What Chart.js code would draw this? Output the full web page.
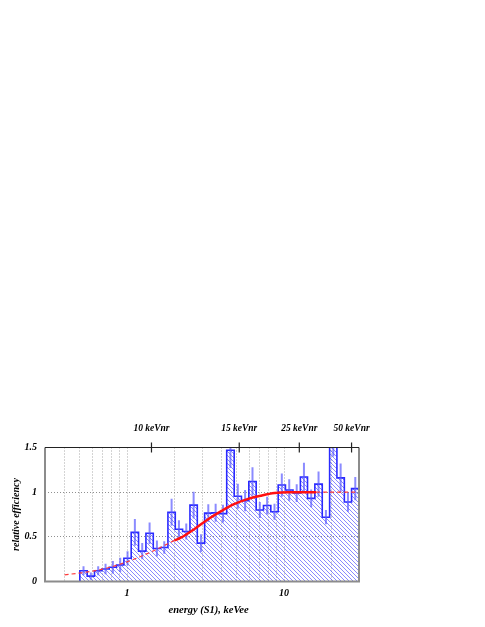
<!DOCTYPE html>
<html>
<head>
<meta charset="utf-8">
<script src="https://cdn.jsdelivr.net/npm/chart.js@4.4.1/dist/chart.umd.min.js"></script>
<style>
  body { margin: 0; background: #fff; }
  canvas { display: block; }
</style>
</head>
<body>
<canvas id="effChart" width="485" height="627"></canvas>
<script>
// histogram bin edges, keVee (38 log-spaced bins)
const binEdges = [0.5, 0.557, 0.620, 0.691, 0.769, 0.857, 0.954, 1.062, 1.183, 1.318,
  1.468, 1.634, 1.820, 2.027, 2.257, 2.514, 2.800, 3.118, 3.472, 3.867,
  4.31, 4.81, 5.35, 5.96, 6.64, 7.39, 8.23, 9.17, 10.2, 11.4,
  12.7, 14.1, 15.7, 17.5, 19.5, 21.7, 24.2, 26.9, 30.0];

const efficiency = [0.12, 0.06, 0.12, 0.14, 0.16, 0.185, 0.26, 0.55, 0.34, 0.54,
  0.37, 0.38, 0.775, 0.585, 0.56, 0.855, 0.43, 0.765, 0.77, 0.76,
  1.47, 0.955, 0.905, 1.12, 0.80, 0.85, 0.78, 1.08, 1.025, 0.99,
  1.17, 0.93, 1.09, 0.72, 1.60, 1.16, 0.89, 1.04];

const errors = [0.05, 0.04, 0.05, 0.06, 0.07, 0.08, 0.08, 0.15, 0.09, 0.12,
  0.09, 0.07, 0.15, 0.10, 0.09, 0.15, 0.10, 0.10, 0.10, 0.10,
  0.20, 0.14, 0.12, 0.16, 0.09, 0.10, 0.09, 0.13, 0.12, 0.10,
  0.16, 0.10, 0.14, 0.08, 0.20, 0.16, 0.11, 0.13];

// fitted efficiency curve (solid inside the fit range, dashed outside)
const fitEnergy = [0.4, 0.5, 0.6, 0.7, 0.8, 1.0, 1.2, 1.5, 2.0, 2.2, 2.7, 3.3, 4.0, 4.8, 5.9, 7.1, 8.7, 10.6, 16, 30];
const fitValue  = [0.075, 0.095, 0.115, 0.14, 0.165, 0.22, 0.275, 0.35, 0.46, 0.49, 0.59, 0.70, 0.79, 0.865, 0.925, 0.96, 0.99, 1.0, 1.0, 1.0];
const fitRange = [2.0, 16];

const topTicks = [1.43, 5.18, 12.5, 26.9];
const topLabels = ['10 keVnr', '15 keVnr', '25 keVnr', '50 keVnr'];
const gridTicks = [0.4, 0.5, 0.6, 0.7, 0.8, 0.9, 1, 2, 3, 4, 5, 6, 7, 8, 9, 10, 20];
const xLabels = { 1: '1', 10: '10' };
const yTicks = [0, 0.5, 1, 1.5];

const serif = "'Liberation Serif', 'Times New Roman', serif";

function hatchPattern() {
  const s = 4;
  const c = document.createElement('canvas');
  c.width = s; c.height = s;
  const g = c.getContext('2d');
  g.strokeStyle = 'rgba(60,60,255,0.6)';
  g.lineWidth = 1;
  g.beginPath();
  g.moveTo(-1, -1); g.lineTo(s + 1, s + 1);
  g.moveTo(-1, s - 1); g.lineTo(1, s + 1);
  g.moveTo(s - 1, -1); g.lineTo(s + 1, 1);
  g.stroke();
  return g.createPattern(c, 'repeat');
}

// step outline: start at 0, one point per bin left edge, close at the last edge
const histPoints = [{ x: binEdges[0], y: 0 }];
efficiency.forEach((v, i) => histPoints.push({ x: binEdges[i], y: v }));
histPoints.push({ x: binEdges[binEdges.length - 1], y: efficiency[efficiency.length - 1] });
histPoints.push({ x: binEdges[binEdges.length - 1], y: 0 });

const errPoints = [];
efficiency.forEach((v, i) => {
  const c = Math.sqrt(binEdges[i] * binEdges[i + 1]);
  errPoints.push({ x: c, y: v - errors[i] }, { x: c, y: v + errors[i] }, { x: c, y: null });
});

const solidFit = [];
const lowFit = [];
const highFit = [];
fitEnergy.forEach((e, i) => {
  const p = { x: e, y: fitValue[i] };
  if (e >= fitRange[0] && e <= fitRange[1]) solidFit.push(p);
  if (e <= fitRange[0]) lowFit.push(p);
  if (e >= fitRange[1]) highFit.push(p);
});

const framePlugin = {
  id: 'frame',
  afterDatasetsDraw(chart) {
    const { ctx, chartArea: a } = chart;
    const top = chart.scales.xTop;
    ctx.save();
    ctx.lineWidth = 2;
    ctx.strokeStyle = '#8c8c8c';
    ctx.beginPath();
    ctx.moveTo(a.left, a.top);
    ctx.lineTo(a.left, a.bottom);
    ctx.lineTo(a.right, a.bottom);
    ctx.lineTo(a.right, a.top);
    ctx.stroke();
    ctx.lineWidth = 1.2;
    ctx.strokeStyle = '#222';
    ctx.beginPath();
    ctx.moveTo(a.left, a.top);
    ctx.lineTo(a.right, a.top);
    topTicks.forEach(v => {
      const x = top.getPixelForValue(v);
      ctx.moveTo(x, a.top - 5);
      ctx.lineTo(x, a.top + 5);
    });
    ctx.stroke();
    ctx.restore();
  }
};

const dashedStyle = {
  borderColor: '#ff3a3a',
  borderWidth: 1.2,
  borderDash: [4, 3],
  pointRadius: 0,
  cubicInterpolationMode: 'monotone',
  fill: false,
  clip: 0
};

new Chart(document.getElementById('effChart'), {
  type: 'line',
  data: {
    datasets: [
      {
        data: solidFit,
        borderColor: '#ff1010',
        borderWidth: 2.5,
        pointRadius: 0,
        cubicInterpolationMode: 'monotone',
        fill: false,
        clip: 0
      },
      Object.assign({ data: lowFit }, dashedStyle),
      Object.assign({ data: highFit }, dashedStyle),
      {
        data: errPoints,
        borderColor: 'rgba(90,90,255,0.7)',
        borderWidth: 2,
        pointRadius: 0,
        fill: false,
        clip: 0
      },
      {
        data: histPoints,
        borderColor: '#2a2aff',
        borderWidth: 1.6,
        backgroundColor: hatchPattern(),
        stepped: true,
        pointRadius: 0,
        fill: 'origin',
        clip: 0
      }
    ]
  },
  options: {
    responsive: false,
    animation: false,
    layout: { padding: { left: 0, right: 126, top: 420, bottom: 0 } },
    plugins: { legend: { display: false }, tooltip: { enabled: false } },
    scales: {
      x: {
        type: 'logarithmic',
        position: 'bottom',
        min: 0.3,
        max: 30,
        afterBuildTicks: s => { s.ticks = gridTicks.map(v => ({ value: v })); },
        afterFit: s => { s.height = 45.5; },
        grid: { color: '#a8a8a8', lineWidth: 1, drawTicks: false },
        border: { display: false, dash: [1, 2] },
        ticks: {
          autoSkip: false,
          maxRotation: 0,
          padding: 6,
          color: '#000',
          font: { family: serif, size: 10, style: 'italic', weight: 'bold' },
          callback: v => xLabels[v] || ''
        },
        title: {
          display: true,
          text: '\u00a0\u00a0\u00a0\u00a0\u00a0energy (S1), keVee',
          color: '#000',
          padding: { top: 0, bottom: 10 },
          font: { family: serif, size: 10.5, style: 'italic', weight: 'bold' }
        }
      },
      xTop: {
        type: 'logarithmic',
        position: 'top',
        min: 0.3,
        max: 30,
        afterBuildTicks: s => { s.ticks = topTicks.map(v => ({ value: v })); },
        afterFit: s => { s.height = 27.5; },
        grid: { display: false },
        border: { display: false },
        ticks: {
          autoSkip: false,
          maxRotation: 0,
          padding: 5,
          color: '#000',
          font: { family: serif, size: 9.5, style: 'italic', weight: 'bold' },
          callback: (v, i) => topLabels[i]
        }
      },
      y: {
        type: 'linear',
        min: 0,
        max: 1.5,
        afterBuildTicks: s => { s.ticks = yTicks.map(v => ({ value: v })); },
        afterFit: s => { s.width = 45; },
        grid: { color: '#909090', lineWidth: 1, drawTicks: false },
        border: { display: false, dash: [1, 2] },
        ticks: {
          padding: 8,
          color: '#000',
          font: { family: serif, size: 10, style: 'italic', weight: 'bold' },
          callback: v => String(v)
        },
        title: {
          display: true,
          text: 'relative efficiency',
          color: '#000',
          padding: { top: 10, bottom: 0 },
          font: { family: serif, size: 10, style: 'italic', weight: 'bold' }
        }
      }
    }
  },
  plugins: [framePlugin]
});
</script>
</body>
</html>
